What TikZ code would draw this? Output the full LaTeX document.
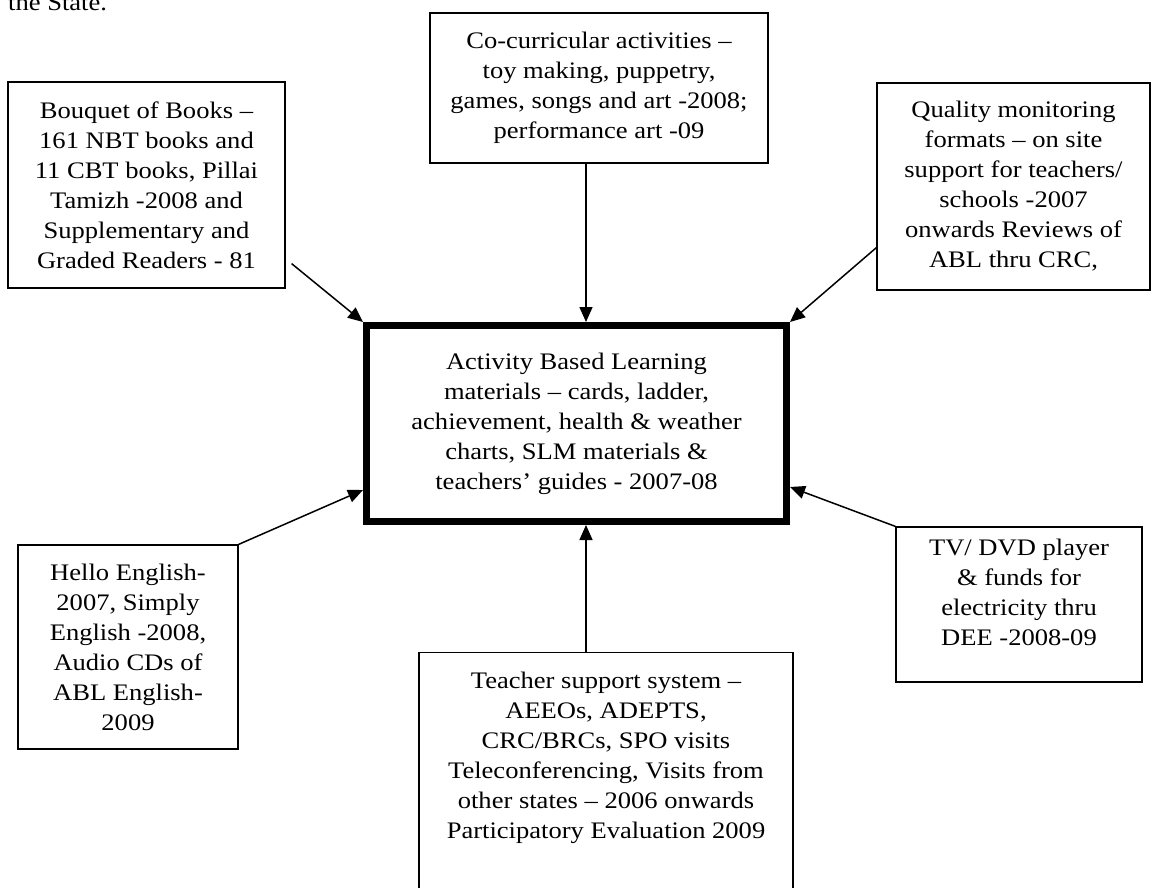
\documentclass[tikz,border=0pt]{standalone}
\usepackage{fontspec}
\setmainfont{Liberation Serif}[FakeStretch=1.12]
\usetikzlibrary{arrows.meta,calc}

\tikzset{
  blockbox/.style={draw,line width=1.2pt,align=center,inner sep=4pt},
  mainbox/.style={blockbox,line width=7pt},
  feed/.style={-{Triangle[length=15pt,width=13pt]},line width=1.5pt}
}

\begin{document}
\begin{tikzpicture}[x=1pt,y=-1pt,font=\fontsize{23.7}{30}\selectfont]
\useasboundingbox (0,0) rectangle (1152,887);

% Tail of the sentence above the chart.
\node[anchor=base west,inner sep=0pt] (caption) at (8,10) {the State.};

% The central box.
\node[mainbox,minimum width=420pt,minimum height=196pt] (abl) at (576.5,423.5)
  {Activity Based Learning\\ materials -- cards, ladder,\\ achievement, health \& weather\\ charts, SLM materials \&\\ teachers' guides - 2007-08};

% The boxes round it.
\node[blockbox,minimum width=277pt,minimum height=206pt] (bouquet) at (146.5,185)
  {Bouquet of Books --\\ 161 NBT books and\\ 11 CBT books, Pillai\\ Tamizh -2008 and\\ Supplementary and\\ Graded Readers - 81};
\node[blockbox,minimum width=338pt,minimum height=150pt] (cocurr) at (599,88)
  {Co-curricular activities --\\ toy making, puppetry,\\ games, songs and art -2008;\\ performance art -09};
\node[blockbox,minimum width=273pt,minimum height=207pt] (quality) at (1013.5,186.5)
  {Quality monitoring\\ formats -- on site\\ support for teachers/\\ schools -2007\\ onwards Reviews of\\ ABL thru CRC,};
\node[blockbox,minimum width=220pt,minimum height=204pt] (hello) at (128,647)
  {Hello English-\\ 2007, Simply\\ English -2008,\\ Audio CDs of\\ ABL English-\\ 2009};
\node[blockbox,minimum width=246pt,minimum height=155pt,text depth=24pt] (tv) at (1019,604.5)
  {TV/ DVD player\\ \& funds for\\ electricity thru\\ DEE -2008-09};
\node[blockbox,anchor=north,minimum width=374pt,inner ysep=19pt,text depth=120pt] (teacher) at (606,652)
  {Teacher support system --\\ AEEOs, ADEPTS,\\ CRC/BRCs, SPO visits\\ Teleconferencing, Visits from\\ other states -- 2006 onwards\\ Participatory Evaluation 2009};

% Arrows into the central box.
\draw[feed] ($(bouquet.south east)+(6,-25)$) -- (abl.north west);
\draw[feed] ($(cocurr.south)+(-13,0)$) -- ($(abl.north)+(9.5,0)$);
\draw[feed] ($(quality.south west)+(0,-43)$) -- (abl.north east);
\draw[feed] (hello.north east) -- ($(abl.south west)+(0,-35)$);
\draw[feed] (tv.north west) -- ($(abl.south east)+(0,-38)$);
\draw[feed] ($(teacher.north)+(-20,0)$) -- ($(abl.south)+(9.5,0)$);

\end{tikzpicture}
\end{document}
